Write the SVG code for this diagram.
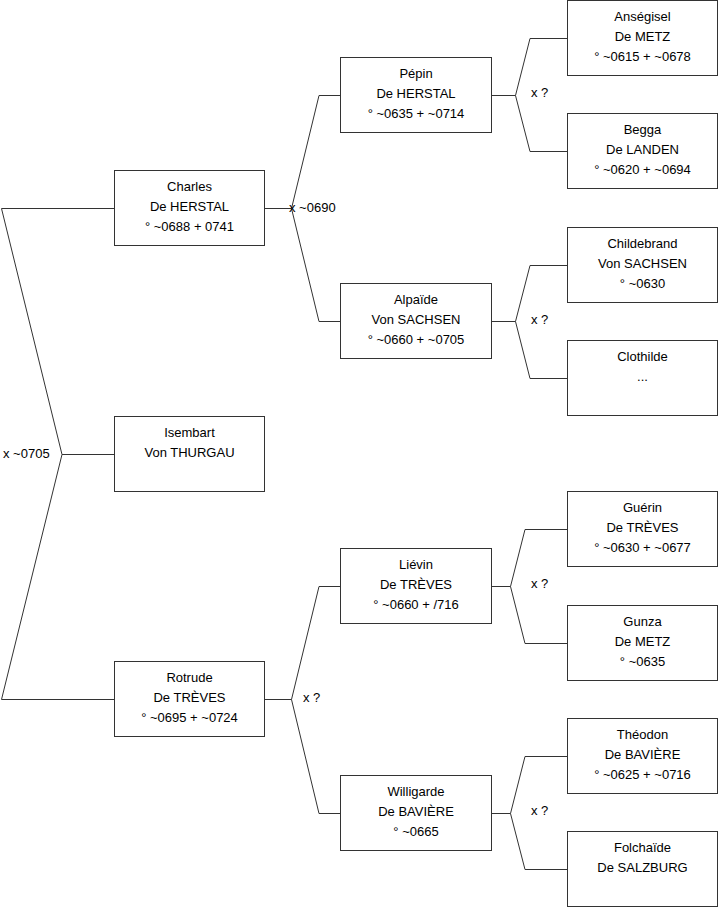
<svg xmlns="http://www.w3.org/2000/svg" width="719" height="908" viewBox="0 0 719 908">
<style>
  .box { fill: #ffffff; stroke: #333333; stroke-width: 1; }
  .conn { fill: none; stroke: #333333; stroke-width: 1; }
  text { font-family: "Liberation Sans", Arial, sans-serif; font-size: 13px; fill: #000000; }
  .c { text-anchor: middle; }
</style>
<rect x="0" y="0" width="719" height="908" fill="#ffffff"/>
<g id="connectors">
  <path class="conn" d="M114,208.5 H1.5 L62,454.5 L1.5,699.5 H114 M62,454.5 H114"/>
  <path class="conn" d="M265,208.5 H291.5 L319,95.5 H340 M291.5,208.5 L319,321.5 H340"/>
  <path class="conn" d="M265,699.5 H291.5 L319,586.5 H340 M291.5,699.5 L319,813.5 H340"/>
  <path class="conn" d="M492,95.5 H515.5 L530,38.5 H567 M515.5,95.5 L530,151.5 H567"/>
  <path class="conn" d="M492,321.5 H515.5 L530,265.5 H567 M515.5,321.5 L530,378.5 H567"/>
  <path class="conn" d="M492,586.5 H510.5 L525,529.5 H567 M510.5,586.5 L525,643.5 H567"/>
  <path class="conn" d="M492,813.5 H510.5 L525,756.5 H567 M510.5,813.5 L525,869.5 H567"/>
  <text x="3" y="458">x ~0705</text>
  <text x="289" y="212">x ~0690</text>
  <text x="303" y="702">x ?</text>
  <text x="531" y="97">x ?</text>
  <text x="531" y="324">x ?</text>
  <text x="531" y="588">x ?</text>
  <text x="531" y="815">x ?</text>
</g>
<g id="charles">
  <rect class="box" x="114.5" y="170.5" width="150" height="75"/>
  <text class="c" x="189.5" y="191">Charles</text>
  <text class="c" x="189.5" y="211">De HERSTAL</text>
  <text class="c" x="189.5" y="231">° ~0688 + 0741</text>
</g>
<g id="isembart">
  <rect class="box" x="114.5" y="416.5" width="150" height="75"/>
  <text class="c" x="189.5" y="437">Isembart</text>
  <text class="c" x="189.5" y="457">Von THURGAU</text>
</g>
<g id="rotrude">
  <rect class="box" x="114.5" y="661.5" width="150" height="75"/>
  <text class="c" x="189.5" y="682">Rotrude</text>
  <text class="c" x="189.5" y="702">De TRÈVES</text>
  <text class="c" x="189.5" y="722">° ~0695 + ~0724</text>
</g>
<g id="pepin">
  <rect class="box" x="340.5" y="57.5" width="151" height="75"/>
  <text class="c" x="416" y="78">Pépin</text>
  <text class="c" x="416" y="98">De HERSTAL</text>
  <text class="c" x="416" y="118">° ~0635 + ~0714</text>
</g>
<g id="alpaide">
  <rect class="box" x="340.5" y="283.5" width="151" height="75"/>
  <text class="c" x="416" y="304">Alpaïde</text>
  <text class="c" x="416" y="324">Von SACHSEN</text>
  <text class="c" x="416" y="344">° ~0660 + ~0705</text>
</g>
<g id="lievin">
  <rect class="box" x="340.5" y="548.5" width="151" height="75"/>
  <text class="c" x="416" y="569">Liévin</text>
  <text class="c" x="416" y="589">De TRÈVES</text>
  <text class="c" x="416" y="609">° ~0660 + /716</text>
</g>
<g id="willigarde">
  <rect class="box" x="340.5" y="775.5" width="151" height="75"/>
  <text class="c" x="416" y="796">Willigarde</text>
  <text class="c" x="416" y="816">De BAVIÈRE</text>
  <text class="c" x="416" y="836">° ~0665</text>
</g>
<g id="ansegisel">
  <rect class="box" x="567.5" y="0.5" width="150" height="75"/>
  <text class="c" x="642.5" y="21">Anségisel</text>
  <text class="c" x="642.5" y="41">De METZ</text>
  <text class="c" x="642.5" y="61">° ~0615 + ~0678</text>
</g>
<g id="begga">
  <rect class="box" x="567.5" y="113.5" width="150" height="75"/>
  <text class="c" x="642.5" y="134">Begga</text>
  <text class="c" x="642.5" y="154">De LANDEN</text>
  <text class="c" x="642.5" y="174">° ~0620 + ~0694</text>
</g>
<g id="childebrand">
  <rect class="box" x="567.5" y="227.5" width="150" height="75"/>
  <text class="c" x="642.5" y="248">Childebrand</text>
  <text class="c" x="642.5" y="268">Von SACHSEN</text>
  <text class="c" x="642.5" y="288">° ~0630</text>
</g>
<g id="clothilde">
  <rect class="box" x="567.5" y="340.5" width="150" height="75"/>
  <text class="c" x="642.5" y="361">Clothilde</text>
  <text class="c" x="642.5" y="381">...</text>
</g>
<g id="guerin">
  <rect class="box" x="567.5" y="491.5" width="150" height="75"/>
  <text class="c" x="642.5" y="512">Guérin</text>
  <text class="c" x="642.5" y="532">De TRÈVES</text>
  <text class="c" x="642.5" y="552">° ~0630 + ~0677</text>
</g>
<g id="gunza">
  <rect class="box" x="567.5" y="605.5" width="150" height="75"/>
  <text class="c" x="642.5" y="626">Gunza</text>
  <text class="c" x="642.5" y="646">De METZ</text>
  <text class="c" x="642.5" y="666">° ~0635</text>
</g>
<g id="theodon">
  <rect class="box" x="567.5" y="718.5" width="150" height="75"/>
  <text class="c" x="642.5" y="739">Théodon</text>
  <text class="c" x="642.5" y="759">De BAVIÈRE</text>
  <text class="c" x="642.5" y="779">° ~0625 + ~0716</text>
</g>
<g id="folchaide">
  <rect class="box" x="567.5" y="831.5" width="150" height="75"/>
  <text class="c" x="642.5" y="852">Folchaïde</text>
  <text class="c" x="642.5" y="872">De SALZBURG</text>
</g>
</svg>
